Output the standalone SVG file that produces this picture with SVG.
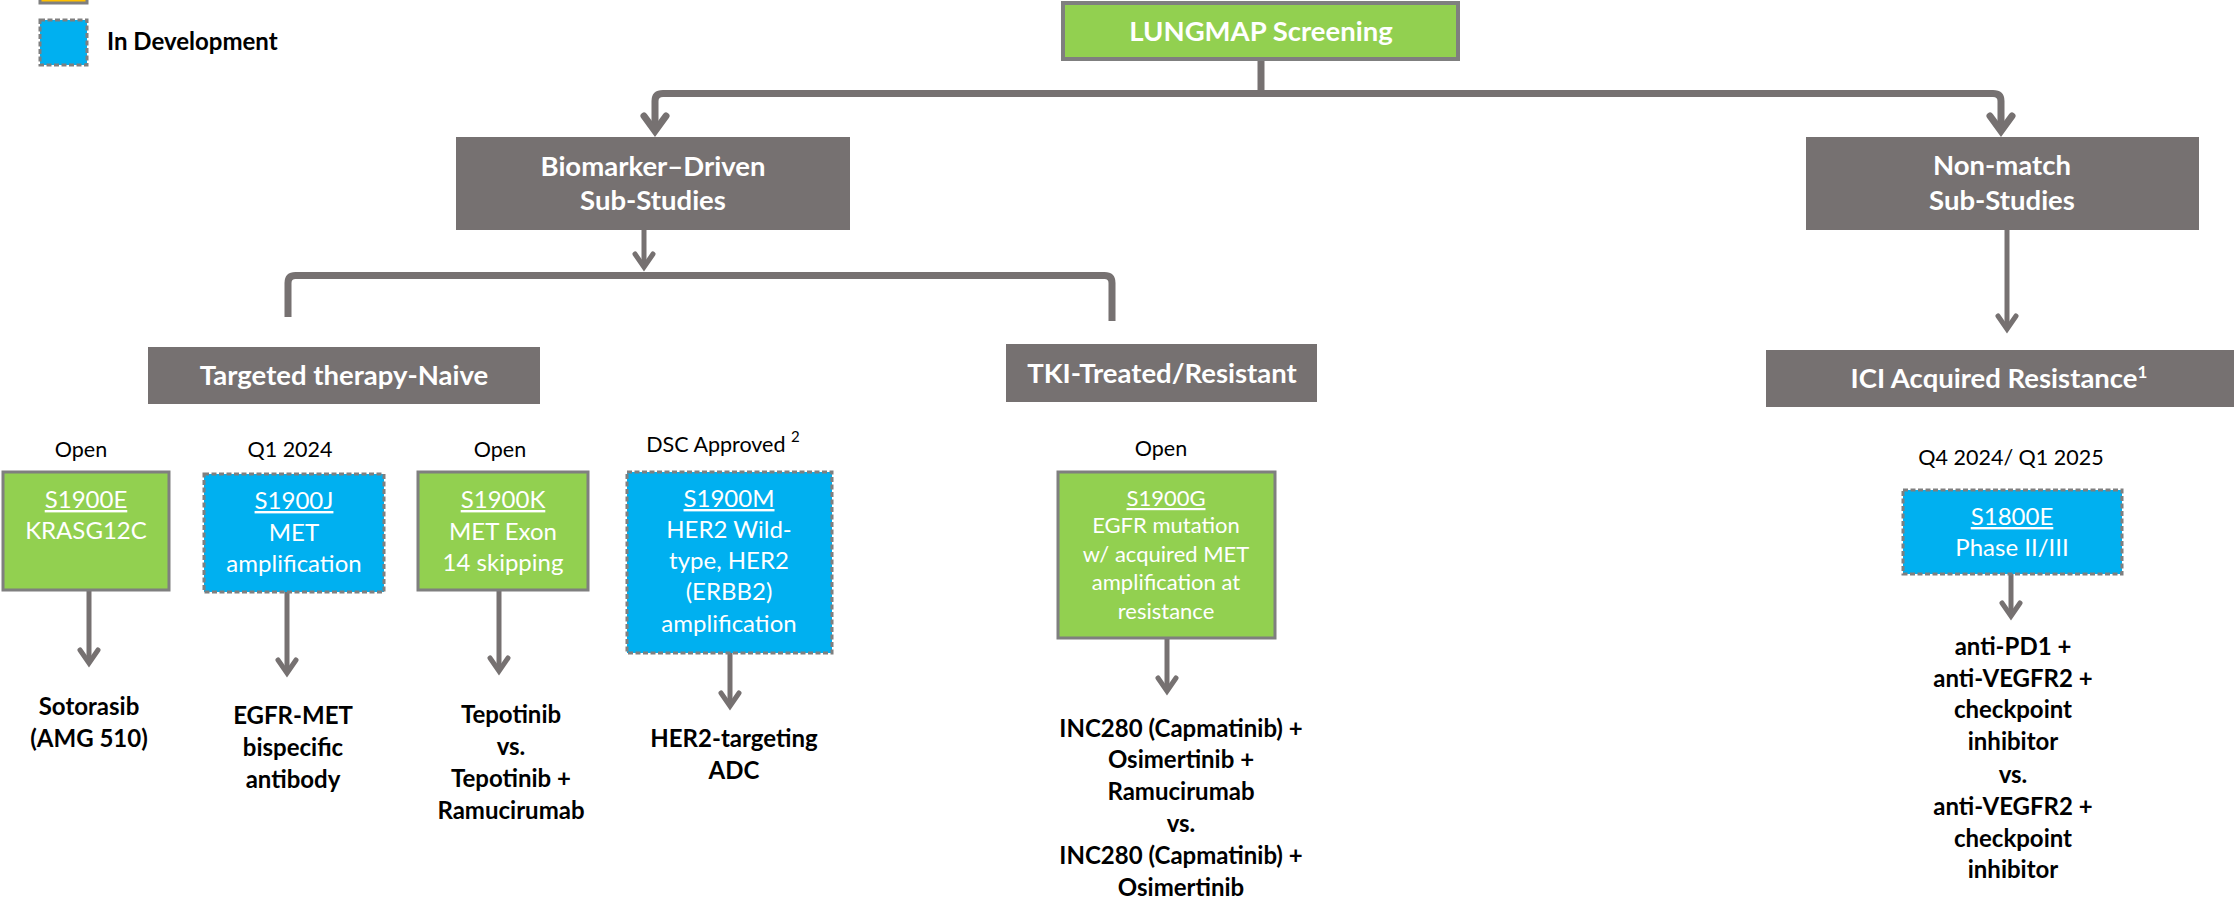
<svg xmlns="http://www.w3.org/2000/svg" width="2235" height="903" viewBox="0 0 2235 903">
<defs>
<style>
text{font-family:Lato,"Liberation Sans",sans-serif}
.hdr{fill:#767171}
.ht{font-weight:700;font-size:27.5px;fill:#fff;text-anchor:middle}
.grn{fill:#92D050;stroke:#7F7F7F;stroke-width:3}
.blu{fill:#00B0F0;stroke:#7F7F7F;stroke-width:3;stroke-dasharray:5 2.5}
.org{fill:#FFC000;stroke:#7F7F7F;stroke-width:3}
.bt{font-size:24px;fill:#fff;text-anchor:middle}
.bts{font-size:22px;fill:#fff;text-anchor:middle}
.u{text-decoration:underline}
.lbl{font-size:21.5px;fill:#000;text-anchor:middle}
.res{font-weight:700;font-size:24px;fill:#000;text-anchor:middle}
.leg{font-weight:700;font-size:24px;fill:#000}
.big{fill:none;stroke:#767171;stroke-width:7}
.sm{fill:none;stroke:#767171;stroke-width:5}
</style>
<marker id="ahb" markerUnits="userSpaceOnUse" orient="auto" overflow="visible" refX="0" refY="0" markerWidth="1" markerHeight="1">
<path d="M-15,-11 L0,0 L-15,11" fill="none" stroke="#767171" stroke-width="7" stroke-linecap="round"/>
</marker>
<marker id="ahs" markerUnits="userSpaceOnUse" orient="auto" overflow="visible" refX="0" refY="0" markerWidth="1" markerHeight="1">
<path d="M-13,-9 L0,0 L-13,9" fill="none" stroke="#767171" stroke-width="5" stroke-linecap="round"/>
</marker>
</defs>
<rect width="2235" height="903" fill="#fff"/>

<g id="legend">
<rect class="org" x="40" y="-45" width="47" height="48"/>
<rect class="blu" x="40" y="20" width="47" height="45"/>
<text class="leg" x="107" y="50">In Development</text>
</g>

<g id="connectors">
<path class="big" d="M1261,59 V93.5"/>
<path class="big" d="M1261,93.5 H663 Q655,93.5 655,101 V131" marker-end="url(#ahb)"/>
<path class="big" d="M1261,93.5 H1993 Q2001,93.5 2001,101 V131" marker-end="url(#ahb)"/>
<path class="sm" d="M644,230 V267" marker-end="url(#ahs)"/>
<path class="big" d="M288,317 V283 Q288,275.5 295.5,275.5 H1104.5 Q1112,275.5 1112,283 V321"/>
<path class="sm" d="M2007,230 V329" marker-end="url(#ahs)"/>
<path class="sm" d="M89,590 V663" marker-end="url(#ahs)"/>
<path class="sm" d="M287,592 V673" marker-end="url(#ahs)"/>
<path class="sm" d="M499,590 V671" marker-end="url(#ahs)"/>
<path class="sm" d="M730,653 V706" marker-end="url(#ahs)"/>
<path class="sm" d="M1167,638 V691" marker-end="url(#ahs)"/>
<path class="sm" d="M2011,574 V616" marker-end="url(#ahs)"/>
</g>

<g id="lungmap">
<rect x="1063" y="3" width="395" height="56" fill="#92D050" stroke="#7F7F7F" stroke-width="4"/>
<text class="ht" x="1261" y="41">LUNGMAP Screening</text>
</g>

<g id="biomarker">
<rect class="hdr" x="456" y="137" width="394" height="93"/>
<text class="ht" x="653" y="176">Biomarker–Driven</text>
<text class="ht" x="653" y="210">Sub-Studies</text>
</g>

<g id="nonmatch">
<rect class="hdr" x="1806" y="137" width="393" height="93"/>
<text class="ht" x="2002" y="175">Non-match</text>
<text class="ht" x="2002" y="210">Sub-Studies</text>
</g>

<g id="naive">
<rect class="hdr" x="148" y="347" width="392" height="57"/>
<text class="ht" x="344" y="385">Targeted therapy-Naive</text>
</g>

<g id="tki">
<rect class="hdr" x="1006" y="344" width="311" height="58"/>
<text class="ht" x="1162" y="383">TKI-Treated/Resistant</text>
</g>

<g id="ici">
<rect class="hdr" x="1766" y="350" width="468" height="57"/>
<text class="ht" x="1999" y="388">ICI Acquired Resistance<tspan font-size="17" dy="-10">1</tspan></text>
</g>

<g id="s1900e">
<text class="lbl" x="81" y="457">Open</text>
<rect class="grn" x="3" y="472" width="166" height="118"/>
<text class="bt" x="86" y="508"><tspan class="u">S1900E</tspan></text>
<text class="bt" x="86" y="539">KRASG12C</text>
</g>

<g id="s1900j">
<text class="lbl" x="290" y="457">Q1 2024</text>
<rect class="blu" x="204" y="474" width="180" height="118"/>
<text class="bt" x="294" y="509"><tspan class="u">S1900J</tspan></text>
<text class="bt" x="294" y="541">MET</text>
<text class="bt" x="294" y="572">amplification</text>
</g>

<g id="s1900k">
<text class="lbl" x="500" y="457">Open</text>
<rect class="grn" x="418" y="472" width="170" height="118"/>
<text class="bt" x="503" y="508"><tspan class="u">S1900K</tspan></text>
<text class="bt" x="503" y="540">MET Exon</text>
<text class="bt" x="503" y="571">14 skipping</text>
</g>

<g id="s1900m">
<text class="lbl" x="723" y="452">DSC Approved <tspan font-size="15" dy="-10">2</tspan></text>
<rect class="blu" x="627" y="472" width="205" height="181"/>
<text class="bt" x="729" y="507"><tspan class="u">S1900M</tspan></text>
<text class="bt" x="729" y="538">HER2 Wild-</text>
<text class="bt" x="729" y="569">type, HER2</text>
<text class="bt" x="729" y="600">(ERBB2)</text>
<text class="bt" x="729" y="632">amplification</text>
</g>

<g id="s1900g">
<text class="lbl" x="1161" y="456">Open</text>
<rect class="grn" x="1058" y="472" width="217" height="166"/>
<text class="bts" x="1166" y="506"><tspan class="u">S1900G</tspan></text>
<text class="bts" x="1166" y="533">EGFR mutation</text>
<text class="bts" x="1166" y="562">w/ acquired MET</text>
<text class="bts" x="1166" y="590">amplification at</text>
<text class="bts" x="1166" y="619">resistance</text>
</g>

<g id="s1800e">
<text class="lbl" x="2011" y="465">Q4 2024/ Q1 2025</text>
<rect class="blu" x="1903" y="490" width="219" height="84"/>
<text class="bt" x="2012" y="525"><tspan class="u">S1800E</tspan></text>
<text class="bt" x="2012" y="556">Phase II/III</text>
</g>

<g id="r-sotorasib">
<text class="res" x="89" y="715">Sotorasib</text>
<text class="res" x="89" y="747">(AMG 510)</text>
</g>

<g id="r-egfrmet">
<text class="res" x="293" y="724">EGFR-MET</text>
<text class="res" x="293" y="756">bispecific</text>
<text class="res" x="293" y="788">antibody</text>
</g>

<g id="r-tepotinib">
<text class="res" x="511" y="723">Tepotinib</text>
<text class="res" x="511" y="755">vs.</text>
<text class="res" x="511" y="787">Tepotinib +</text>
<text class="res" x="511" y="819">Ramucirumab</text>
</g>

<g id="r-her2">
<text class="res" x="734" y="747">HER2-targeting</text>
<text class="res" x="734" y="779">ADC</text>
</g>

<g id="r-inc280">
<text class="res" x="1181" y="737">INC280 (Capmatinib) +</text>
<text class="res" x="1181" y="768">Osimertinib +</text>
<text class="res" x="1181" y="800">Ramucirumab</text>
<text class="res" x="1181" y="832">vs.</text>
<text class="res" x="1181" y="864">INC280 (Capmatinib) +</text>
<text class="res" x="1181" y="896">Osimertinib</text>
</g>

<g id="r-antipd1">
<text class="res" x="2013" y="655">anti-PD1 +</text>
<text class="res" x="2013" y="687">anti-VEGFR2 +</text>
<text class="res" x="2013" y="718">checkpoint</text>
<text class="res" x="2013" y="750">inhibitor</text>
<text class="res" x="2013" y="783">vs.</text>
<text class="res" x="2013" y="815">anti-VEGFR2 +</text>
<text class="res" x="2013" y="847">checkpoint</text>
<text class="res" x="2013" y="878">inhibitor</text>
</g>
</svg>
